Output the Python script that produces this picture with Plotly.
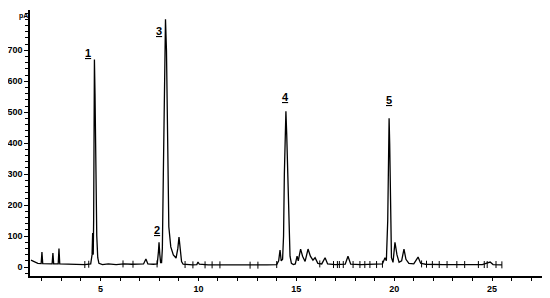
"""Chromatogram (pA vs retention time) with numbered peaks."""

import plotly.graph_objects as go

# retention time (min) and detector signal (pA)
rt_min = [
    1.45, 1.6, 1.8, 1.97, 2.01, 2.05, 2.3, 2.53, 2.57, 2.61, 2.84, 2.88, 2.92,
    3.3, 3.8, 4.2, 4.5, 4.57, 4.6, 4.63, 4.65, 4.67, 4.69, 4.72, 4.76, 4.81,
    4.86, 4.92, 5.1, 5.4, 5.8, 6.2, 6.6, 7.0, 7.2, 7.32, 7.42, 7.7, 7.9, 7.96,
    7.99, 8.03, 8.07, 8.12, 8.16, 8.21, 8.27, 8.32, 8.37, 8.43, 8.49, 8.59,
    8.72, 8.86, 8.95, 9.01, 9.07, 9.14, 9.22, 9.4, 9.7, 9.92, 9.98, 10.05,
    10.5, 11.5, 12.5, 13.5, 14.0, 14.1, 14.17, 14.23, 14.3, 14.35, 14.39,
    14.44, 14.47, 14.51, 14.56, 14.62, 14.68, 14.75, 14.85, 14.95, 15.04,
    15.1, 15.22, 15.32, 15.45, 15.6, 15.72, 15.85, 15.96, 16.1, 16.3, 16.47,
    16.6, 17.0, 17.5, 17.64, 17.78, 18.3, 19.0, 19.4, 19.53, 19.6, 19.67,
    19.71, 19.74, 19.77, 19.81, 19.86, 19.94, 20.04, 20.14, 20.25, 20.38,
    20.5, 20.6, 20.75, 21.0, 21.22, 21.35, 21.6, 22.5, 23.5, 24.5, 24.9,
    25.05, 25.5,
]
signal_pa = [
    22, 18, 12, 11, 48, 11, 10, 10, 45, 10, 10, 60, 10,
    9, 9, 8, 10, 40, 110, 40, 150, 400, 670, 560, 300, 100,
    30, 12, 8, 10, 8, 10, 9, 9, 10, 26, 10, 9, 10, 50,
    80, 40, 14, 14, 60, 300, 700, 800, 700, 300, 130, 65,
    39, 29, 60, 97, 55, 18, 9, 8, 7, 8, 16, 9,
    7, 7, 6, 7, 8, 20, 55, 20, 25, 100, 300,
    480, 503, 430, 300, 120, 35, 12, 8, 10, 35,
    20, 58, 35, 18, 58, 35, 22, 30, 12, 10, 30,
    10, 8, 9, 35, 9, 8, 8, 10, 30, 20, 150,
    400, 480, 400, 150, 30, 15, 80, 40, 15, 20,
    58, 25, 12, 10, 32, 12, 9, 8, 8, 8, 16,
    8, 7,
]

# integration event marks on the baseline
event_rt = [
    4.2, 4.4, 6.15, 6.66, 7.89, 9.32, 9.72, 10.34, 10.7, 11.1, 12.64, 13.04,
    14.0, 16.2, 16.9, 17.1, 17.2, 17.4, 17.9, 18.25, 18.5, 18.76, 19.1, 19.4,
    21.4, 21.65, 21.95, 22.3, 22.7, 23.2, 23.6, 24.3, 24.6, 24.75, 25.2, 25.5,
]
event_pa = [
    8, 9, 10, 9, 10, 8, 7, 7, 7, 7, 6, 6,
    8, 10, 8, 8, 8, 8, 8, 8, 8, 8, 8, 9,
    10, 9, 8, 8, 8, 8, 8, 8, 8, 8, 8, 7,
]

# peak numbers and where they are written
peak_names = ["1", "2", "3", "4", "5"]
peak_label_rt = [4.36, 7.89, 7.99, 14.47, 19.74]
peak_label_pa = [690, 119, 761, 548, 539]

fig = go.Figure()
fig.add_trace(
    go.Scatter(
        x=rt_min, y=signal_pa, mode="lines",
        line=dict(color="black", width=1.3),
        hoverinfo="skip", showlegend=False,
    )
)
fig.add_trace(
    go.Scatter(
        x=event_rt, y=event_pa, mode="markers",
        marker=dict(symbol="line-ns-open", size=5, color="black",
                    line=dict(color="black", width=1)),
        hoverinfo="skip", showlegend=False,
    )
)

annotations = [
    dict(
        x=rt, y=pa, text=f"<b><u>{name}</u></b>", showarrow=False,
        font=dict(family="Liberation Sans", size=11, color="black"),
    )
    for name, rt, pa in zip(peak_names, peak_label_rt, peak_label_pa)
]
annotations.append(
    dict(
        x=-0.026, y=1.0, xref="paper", yref="paper", text="<b>pA</b>",
        showarrow=False, font=dict(family="Liberation Sans", size=7, color="black"),
    )
)

# the page body keeps its default 8px margin, so the figure is 8px smaller
fig.update_layout(
    template="none",
    width=542,
    height=290,
    margin=dict(l=22, r=7, t=2, b=22),
    paper_bgcolor="white",
    plot_bgcolor="white",
    annotations=annotations,
)
fig.update_xaxes(
    range=[1.4, 27.6],
    tickvals=[5, 10, 15, 20, 25],
    ticks="outside", ticklen=3, tickwidth=1, tickcolor="black",
    minor=dict(dtick=1, ticks="outside", ticklen=3, tickcolor="black"),
    showline=True, linecolor="black", linewidth=1.5,
    showgrid=False, zeroline=False,
    tickfont=dict(family="Liberation Sans", size=9, color="black", weight="bold"),
)
fig.update_yaxes(
    range=[-29, 830],
    tickvals=[0, 100, 200, 300, 400, 500, 600, 700],
    ticks="outside", ticklen=4, tickwidth=1, tickcolor="black",
    minor=dict(dtick=20, ticks="outside", ticklen=3, tickcolor="black"),
    showline=True, linecolor="black", linewidth=1.5,
    showgrid=False, zeroline=False,
    tickfont=dict(family="Liberation Sans", size=9, color="black", weight="bold"),
)

fig.write_html("out.html")
